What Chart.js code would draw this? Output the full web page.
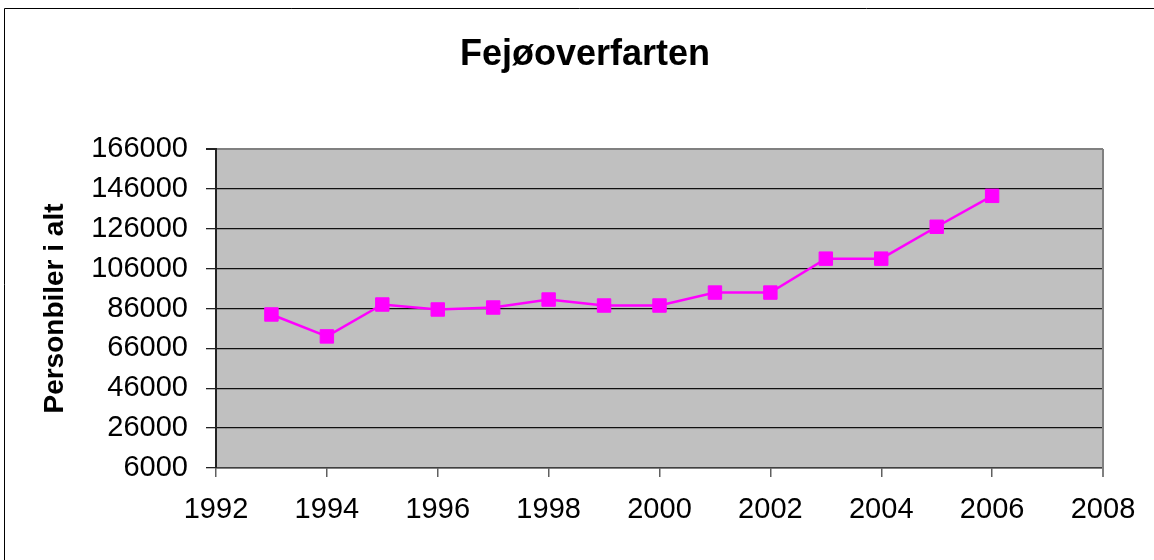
<!DOCTYPE html>
<html>
<head>
<meta charset="utf-8">
<script src="https://cdn.jsdelivr.net/npm/chart.js@4/dist/chart.umd.min.js"></script>
<style>
  html, body { margin: 0; padding: 0; background: #fff; }
  #wrap { width: 1154px; height: 560px; position: relative; }
</style>
</head>
<body>
<div id="wrap"><canvas id="c" width="1154" height="560"></canvas></div>
<script>
const chartTitle = 'Fejøoverfarten';
const yAxisTitle = 'Personbiler i alt';
const years = [1993, 1994, 1995, 1996, 1997, 1998, 1999, 2000, 2001, 2002, 2003, 2004, 2005, 2006];
const cars = [83000, 72000, 88000, 85500, 86500, 90500, 87500, 87500, 94000, 94000, 111000, 111000, 127000, 142500];
const xMin = 1992, xMax = 2008, xStep = 2;
const yMin = 6000, yMax = 166000, yStep = 20000;

const FONT = '"Liberation Sans", Arial, sans-serif';

const frame = {
  id: 'frame',
  beforeDraw(chart) {
    const ctx = chart.ctx, a = chart.chartArea;
    ctx.save();
    ctx.fillStyle = '#fff';
    ctx.fillRect(0, 0, chart.width, chart.height);
    ctx.strokeStyle = '#000';
    ctx.lineWidth = 1;
    ctx.beginPath();
    ctx.moveTo(4.5, chart.height);
    ctx.lineTo(4.5, 8.5);
    ctx.lineTo(chart.width, 8.5);
    ctx.stroke();
    ctx.fillStyle = '#c0c0c0';
    ctx.fillRect(a.left, a.top, a.right - a.left, a.bottom - a.top);
    // chart title
    ctx.fillStyle = '#000';
    ctx.font = 'bold 36px ' + FONT;
    ctx.textAlign = 'center';
    ctx.textBaseline = 'alphabetic';
    ctx.fillText(chartTitle, 585, 65);
    ctx.restore();
  },
  beforeDatasetsDraw(chart) {
    const ctx = chart.ctx, a = chart.chartArea;
    ctx.save();
    ctx.strokeStyle = '#808080';
    ctx.lineWidth = 2;
    ctx.beginPath();
    ctx.moveTo(a.right, a.top);
    ctx.lineTo(a.right, a.bottom + 9);
    ctx.stroke();
    ctx.restore();
  }
};

new Chart(document.getElementById('c'), {
  type: 'line',
  data: {
    datasets: [{
      data: years.map((y, i) => ({ x: y, y: cars[i] })),
      borderColor: '#ff00ff',
      backgroundColor: '#ff00ff',
      borderWidth: 2.5,
      pointStyle: 'rect',
      pointRadius: 9.5,
      pointBorderWidth: 1,
      pointBorderColor: '#ff00ff',
      pointBackgroundColor: '#ff00ff',
      tension: 0,
      fill: false
    }]
  },
  options: {
    responsive: false,
    animation: false,
    devicePixelRatio: 1,
    layout: { padding: { left: 0, right: 51, top: 149, bottom: 0 } },
    plugins: {
      legend: { display: false },
      tooltip: { enabled: false },
      title: { display: false }
    },
    scales: {
      x: {
        type: 'linear',
        min: xMin, max: xMax,
        afterFit(scale) { scale.height = 92; },
        ticks: {
          stepSize: xStep,
          color: '#000',
          padding: 16,
          maxRotation: 0,
          autoSkip: false,
          font: { family: FONT, size: 29 },
          callback: v => String(v)
        },
        grid: {
          drawOnChartArea: false,
          drawTicks: true,
          tickLength: 9,
          tickColor: '#606060',
          lineWidth: 1.5
        },
        border: { display: true, color: '#404040', width: 1.5 }
      },
      y: {
        type: 'linear',
        min: yMin, max: yMax,
        afterFit(scale) { scale.width = 216; },
        ticks: {
          stepSize: yStep,
          color: '#000',
          padding: 18,
          font: { family: FONT, size: 29 },
          callback: v => String(v)
        },
        grid: {
          color: ctx => (ctx.tick && ctx.tick.value === yMax) ? '#808080' : '#111',
          lineWidth: ctx => (ctx.tick && ctx.tick.value === yMax) ? 2 : 1.3,
          tickColor: '#222',
          tickLength: 10,
          drawTicks: true
        },
        border: { display: true, color: '#222', width: 2 },
        title: {
          display: true,
          text: yAxisTitle,
          color: '#000',
          font: { family: FONT, size: 28, weight: 'bold' },
          padding: { top: 38, bottom: 0 }
        }
      }
    }
  },
  plugins: [frame]
});
</script>
</body>
</html>
